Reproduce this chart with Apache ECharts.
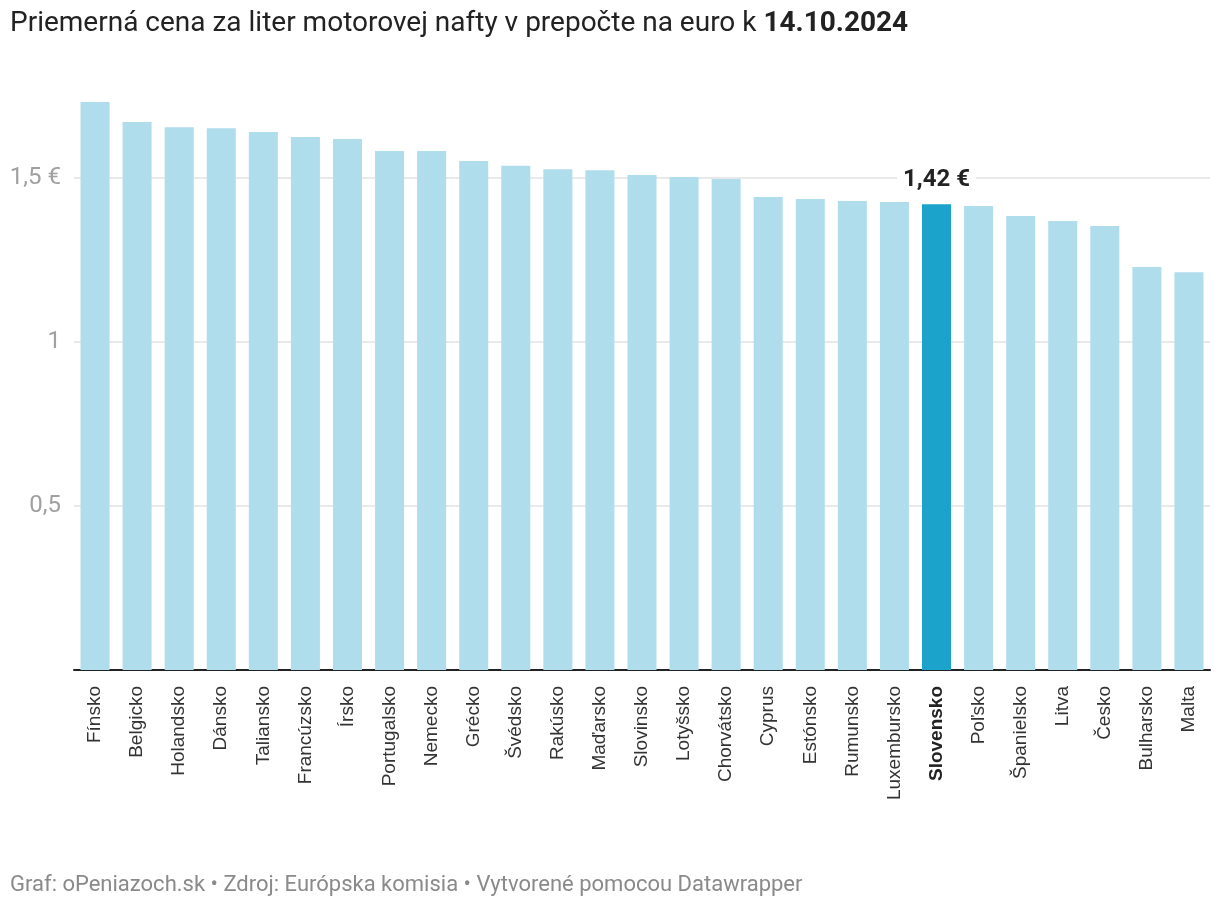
<!DOCTYPE html>
<html>
<head>
<meta charset="utf-8">
<script src="https://cdn.jsdelivr.net/npm/echarts@6/dist/echarts.min.js"></script>
<style>
html,body{margin:0;padding:0;background:#fff;}
#chart{width:1220px;height:912px;}
</style>
</head>
<body>
<div id="chart"></div>
<script>
const categories = ['Fínsko','Belgicko','Holandsko','Dánsko','Taliansko','Francúzsko','Írsko','Portugalsko','Nemecko','Grécko','Švédsko','Rakúsko','Maďarsko','Slovinsko','Lotyšsko','Chorvátsko','Cyprus','Estónsko','Rumunsko','Luxembursko','Slovensko','Poľsko','Španielsko','Litva','Česko','Bulharsko','Malta'];
const prices = [1.732,1.671,1.655,1.652,1.640,1.625,1.619,1.582,1.582,1.552,1.537,1.527,1.524,1.509,1.503,1.497,1.442,1.436,1.430,1.427,1.42,1.415,1.384,1.369,1.354,1.229,1.213];
const highlighted = 'Slovensko';
const highlightLabel = '1,42 €';
const yTickValues = [0.5, 1, 1.5];
const yTickLabels = ['0,5', '1', '1,5 €'];
const titleText = 'Priemerná cena za liter motorovej nafty v prepočte na euro k ';
const titleDate = '14.10.2024';
const footerText = 'Graf: oPeniazoch.sk • Zdroj: Európska komisia • Vytvorené pomocou Datawrapper';

const chart = echarts.init(document.getElementById('chart'), null, {renderer: 'canvas'});

const seriesData = categories.map((c, i) => {
  const isHi = c === highlighted;
  return {
    value: prices[i],
    itemStyle: {color: isHi ? '#1ba3cc' : '#b0ddec'},
    label: isHi ? {
      show: true, position: 'top', distance: 10,
      formatter: highlightLabel,
      fontFamily: 'Roboto', fontWeight: 'bold', fontSize: 24, color: '#222',
      backgroundColor: '#fff', padding: [2, 6]
    } : {show: false}
  };
});

chart.setOption({
  animation: false,
  backgroundColor: '#fff',
  title: [
    {
      left: 10, top: 10, padding: 0,
      text: '{n|' + titleText + '}{b|' + titleDate + '}',
      textStyle: {
        fontFamily: 'Roboto', fontSize: 28, color: '#222',
        rich: {
          n: {fontFamily: 'Roboto', fontSize: 28, color: '#222', fontWeight: 'normal'},
          b: {fontFamily: 'Roboto', fontSize: 28, color: '#222', fontWeight: 'bold'}
        }
      }
    },
    {
      left: 10, top: 874, padding: 0,
      text: footerText,
      textStyle: {fontFamily: 'Roboto', fontSize: 22, color: '#8a8a8a', fontWeight: 'normal'}
    }
  ],
  grid: {left: 74, right: 10, top: 79.6, bottom: 242, containLabel: false},
  xAxis: {
    type: 'category',
    data: categories,
    axisTick: {show: false},
    axisLine: {lineStyle: {color: '#222', width: 2}},
    axisLabel: {
      interval: 0, rotate: 90, margin: 16,
      fontFamily: 'Liberation Sans', fontSize: 19, color: '#333',
      formatter: v => v === highlighted ? '{b|' + v + '}' : v,
      rich: {b: {fontFamily: 'Liberation Sans', fontSize: 19, color: '#222', fontWeight: 'bold'}}
    }
  },
  yAxis: {
    type: 'value',
    min: 0, max: 1.8, interval: 0.5,
    axisLine: {show: false},
    axisTick: {show: false},
    splitLine: {show: true, showMaxLine: false, lineStyle: {color: '#e2e2e2', width: 1.5}},
    axisLabel: {
      margin: 13, showMinLabel: false, showMaxLabel: false,
      fontFamily: 'Roboto', fontSize: 24, color: '#a0a0a0',
      formatter: v => {
        const idx = yTickValues.findIndex(t => Math.abs(t - v) < 1e-9);
        return idx >= 0 ? yTickLabels[idx] : '';
      }
    }
  },
  series: [{
    type: 'bar',
    data: seriesData,
    barWidth: '69%'
  }]
});
</script>
</body>
</html>
